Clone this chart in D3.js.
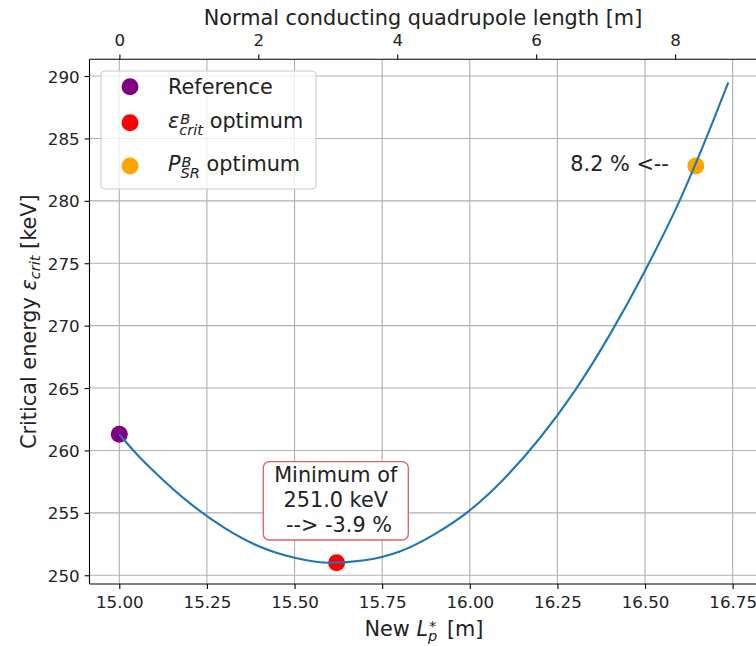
<!DOCTYPE html>
<html>
<head>
<meta charset="utf-8">
<script src="https://cdn.jsdelivr.net/npm/d3@7"></script>
<style>
  html, body { margin: 0; padding: 0; background: #ffffff; }
  svg { display: block; }
</style>
</head>
<body>
<script>
// ---------------- data ----------------
const lengthNew = [15.00, 15.05, 15.10, 15.20, 15.30, 15.40, 15.50, 15.60, 15.70, 15.80,
                   15.90, 16.00, 16.10, 16.20, 16.30, 16.40, 16.50, 16.60, 16.70, 16.7375];
const critEnergy = [261.3, 259.7, 258.3, 255.8, 253.8, 252.3, 251.4, 251.0, 251.2, 251.9,
                    253.3, 255.2, 257.8, 261.0, 264.8, 269.3, 274.4, 280.1, 286.8, 289.5];

const pointNames  = ["Reference", "crit optimum", "SR optimum"];
const pointX      = [15.00, 15.62, 16.645];
const pointY      = [261.3, 251.0, 282.8];
const pointColors = ["purple", "red", "orange"];

const xTicks    = [15.00, 15.25, 15.50, 15.75, 16.00, 16.25, 16.50, 16.75];
const yTicks    = [250, 255, 260, 265, 270, 275, 280, 285, 290];
const topTicks  = [0, 2, 4, 6, 8];

const boxLines  = ["Minimum of", "251.0 keV", " --> -3.9 %"];
const sideLabel = "8.2 % <--";

// ---------------- layout ----------------
const W = 756, H = 646;
const FONT = "DejaVu Sans, sans-serif";
const FS = 20.8, TS = 16.7, SS = 14.6;
const L = 89.5, R = 758.6, T = 59.3, B = 584;

const svg = d3.select("body").append("svg")
  .attr("width", W).attr("height", H)
  .attr("font-family", FONT);

const x = d3.scaleLinear().domain([14.915, 16.824]).range([L, R]);
const y = d3.scaleLinear().domain([249.30, 291.34]).range([B, T]);
const xTop = d3.scaleLinear().domain([-0.4306, 9.2024]).range([L, R]);

const measure = (str, size, italic) => {
  const t = svg.append("text").attr("font-size", size)
    .attr("font-style", italic ? "italic" : "normal").text(str);
  const w = t.node().getComputedTextLength();
  t.remove();
  return w;
};

// grid
const grid = svg.append("g").attr("stroke", "#b0b0b0").attr("stroke-width", 1.1);
grid.selectAll("line.v").data(xTicks).join("line").attr("class", "v")
  .attr("x1", d => x(d)).attr("x2", d => x(d)).attr("y1", T).attr("y2", B);
grid.selectAll("line.h").data(yTicks).join("line").attr("class", "h")
  .attr("x1", L).attr("x2", R).attr("y1", d => y(d)).attr("y2", d => y(d));

// axes
const axB = svg.append("g").attr("transform", `translate(0,${B})`)
  .call(d3.axisBottom(x).tickValues(xTicks).tickFormat(d3.format(".2f"))
        .tickSize(4.9).tickPadding(4.9).tickSizeOuter(0));
axB.selectAll("text").attr("dy", null).attr("y", 24).attr("font-size", TS)
  .attr("font-family", FONT).attr("fill", "#222");

const axL = svg.append("g").attr("transform", `translate(${L},0)`)
  .call(d3.axisLeft(y).tickValues(yTicks).tickFormat(d3.format("d"))
        .tickSize(4.9).tickPadding(4.9).tickSizeOuter(0));
axL.selectAll("text").attr("dy", "0.36em").attr("font-size", TS)
  .attr("font-family", FONT).attr("fill", "#222");

const axT = svg.append("g").attr("transform", `translate(0,${T})`)
  .call(d3.axisTop(xTop).tickValues(topTicks).tickFormat(d3.format("d"))
        .tickSize(4.9).tickPadding(4.9).tickSizeOuter(0));
axT.selectAll("text").attr("dy", null).attr("y", -13.8).attr("font-size", TS)
  .attr("font-family", FONT).attr("fill", "#222");

[axB, axL, axT].forEach(a => {
  a.select(".domain").remove();
  a.selectAll(".tick line").attr("stroke", "#000").attr("stroke-width", 1.1);
});

// spines
const sp = svg.append("g").attr("stroke", "#000").attr("stroke-width", 1.1);
sp.append("line").attr("x1", L).attr("x2", L).attr("y1", T).attr("y2", B);
sp.append("line").attr("x1", L).attr("x2", R).attr("y1", B).attr("y2", B);
sp.append("line").attr("x1", L).attr("x2", R).attr("y1", T).attr("y2", T);
sp.append("line").attr("x1", R).attr("x2", R).attr("y1", T).attr("y2", B);

// points
svg.append("g").selectAll("circle").data(pointX).join("circle")
  .attr("cx", (d, i) => x(pointX[i])).attr("cy", (d, i) => y(pointY[i]))
  .attr("r", 8.5).attr("fill", (d, i) => pointColors[i]);

// curve
const data = lengthNew.map((v, i) => [v, critEnergy[i]]);
svg.append("path").datum(data)
  .attr("fill", "none").attr("stroke", "#1f77b4").attr("stroke-width", 2.1)
  .attr("d", d3.line().x(d => x(d[0])).y(d => y(d[1])).curve(d3.curveMonotoneX));

// annotation box
const bx = x(pointX[1]) - 0.9;
svg.append("rect").attr("x", 263.3).attr("y", 461.7)
  .attr("width", 145).attr("height", 78.3).attr("rx", 6)
  .attr("fill", "#fff").attr("stroke", "#e06060").attr("stroke-width", 1.3);
svg.append("g").selectAll("text").data(boxLines).join("text")
  .attr("x", bx).attr("y", (d, i) => 482 + i * 25)
  .attr("text-anchor", "middle").attr("font-size", FS).attr("fill", "#222")
  .attr("xml:space", "preserve").style("white-space", "pre")
  .text(d => d);

// side annotation
svg.append("text").attr("x", x(pointX[2]) - 27).attr("y", 171)
  .attr("text-anchor", "end").attr("font-size", FS).attr("fill", "#222")
  .text(sideLabel);

// legend
const lg = svg.append("g");
lg.append("rect").attr("x", 101).attr("y", 71).attr("width", 215).attr("height", 118)
  .attr("rx", 4.2).attr("fill", "#fff").attr("fill-opacity", 0.8)
  .attr("stroke", "#cccccc").attr("stroke-width", 1.1);
const rowY = [86.7, 122.7, 166];
lg.selectAll("circle").data(rowY).join("circle")
  .attr("cx", 130).attr("cy", d => d).attr("r", 8.5)
  .attr("fill", (d, i) => pointColors[i]);

lg.append("text").attr("x", 168).attr("y", 94).attr("font-size", FS)
  .attr("fill", "#222").text(pointNames[0]);

function stacked(g, x0, base, main, sup, sub, rest) {
  const t = g.append("text").attr("x", x0).attr("y", base)
    .attr("font-size", FS).attr("fill", "#222");
  const wSup = measure(sup, SS, true);
  const wSub = measure(sub, SS, true);
  t.append("tspan").attr("font-style", "italic").text(main);
  t.append("tspan").attr("font-style", "italic").attr("font-size", SS)
    .attr("dx", 1).attr("dy", -4.5).text(sup);
  t.append("tspan").attr("font-style", "italic").attr("font-size", SS)
    .attr("dx", -wSup - 1).attr("dy", 11.3).text(sub);
  t.append("tspan").attr("dx", Math.max(0, wSup - wSub) + 6.6).attr("dy", -6.8).text(rest);
  return t;
}
stacked(lg, 168, 128.3, "ε", "B", "crit", "optimum");
stacked(lg, 168, 171, "P", "B", "SR", "optimum");

// axis labels
svg.append("text").attr("x", 423).attr("y", 25).attr("text-anchor", "middle")
  .attr("font-size", FS).attr("fill", "#222")
  .text("Normal conducting quadrupole length [m]");

const xl = svg.append("text").attr("x", 424).attr("y", 636).attr("text-anchor", "middle")
  .attr("font-size", FS).attr("fill", "#222");
{
  const wStar = measure("*", SS, false);
  const wp = measure("p", SS, true);
  xl.append("tspan").text("New ");
  xl.append("tspan").attr("font-style", "italic").text("L");
  xl.append("tspan").attr("font-size", SS).attr("dx", 1).attr("dy", -5).text("*");
  xl.append("tspan").attr("font-style", "italic").attr("font-size", SS)
    .attr("dx", -wStar - 1).attr("dy", 10).text("p");
  xl.append("tspan").attr("dx", Math.max(0, wStar - wp) + 3).attr("dy", -5)
    .attr("xml:space", "preserve").text(" [m]");
}

const yl = svg.append("text")
  .attr("transform", `translate(36,${(T + B) / 2}) rotate(-90)`)
  .attr("text-anchor", "middle").attr("font-size", FS).attr("fill", "#222");
yl.append("tspan").text("Critical energy ");
yl.append("tspan").attr("font-style", "italic").text("ε");
yl.append("tspan").attr("font-style", "italic").attr("font-size", SS).attr("dy", 4.2).text("crit");
yl.append("tspan").attr("dy", -4.2).attr("xml:space", "preserve").text(" [keV]");
</script>
</body>
</html>
